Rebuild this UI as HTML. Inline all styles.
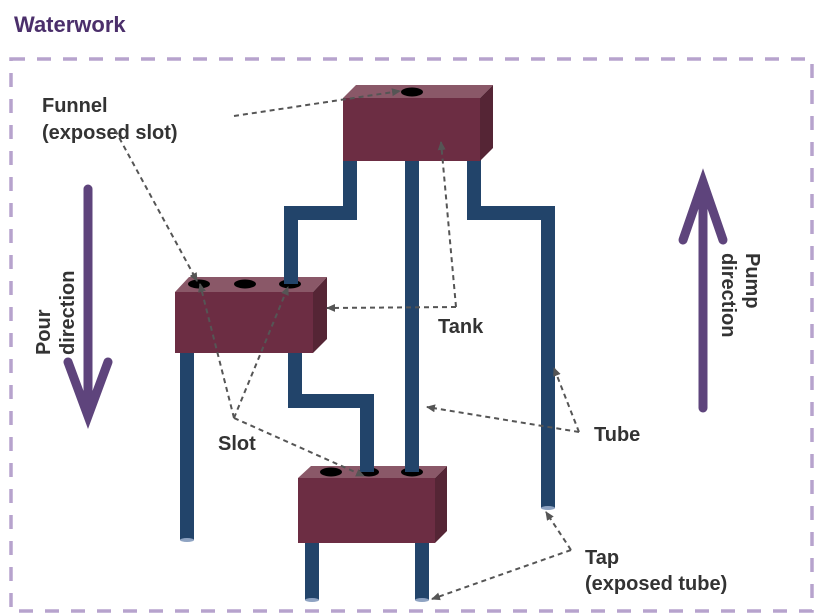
<!DOCTYPE html>
<html><head><meta charset="utf-8"><style>
html,body{margin:0;padding:0;background:#fff;width:816px;height:615px;overflow:hidden}
text{font-family:"Liberation Sans",sans-serif;font-weight:bold}
</style></head><body>
<svg width="816" height="615" viewBox="0 0 816 615" xmlns="http://www.w3.org/2000/svg">
<defs>
<marker id="ah" markerWidth="10" markerHeight="10" refX="8" refY="5" orient="auto" markerUnits="userSpaceOnUse"><path d="M0,1 L9,5 L0,9 z" fill="#555"/></marker>
</defs>
<text x="14" y="32" font-size="22" fill="#4b2f6b">Waterwork</text>
<rect x="11" y="59" width="801" height="552" fill="none" stroke="#b7a3cd" stroke-width="3.5" stroke-dasharray="14,12"/>

<!-- tubes -->
<g fill="none" stroke="#22446a" stroke-width="14" stroke-linejoin="miter">
<path d="M350,160 V213 H291 V290"/>
<path d="M412,160 V472"/>
<path d="M474,160 V213 H548 V508"/>
<path d="M187,350 V540"/>
<path d="M295,350 V401 H367 V474"/>
<path d="M312,540 V600"/>
<path d="M422,540 V600"/>
</g>
<g fill="#8ea3c2"><ellipse cx="187" cy="540" rx="7" ry="2"/><ellipse cx="548" cy="508" rx="7" ry="2"/><ellipse cx="312" cy="600" rx="7" ry="2"/><ellipse cx="422" cy="600" rx="7" ry="2"/></g>

<!-- top box -->
<polygon points="343,98 356,85 493,85 480,98" fill="#8a5868"/>
<polygon points="480,98 493,85 493,148 480,161" fill="#552535"/>
<rect x="343" y="98" width="137" height="63" fill="#6c2d43"/>
<ellipse cx="412" cy="92" rx="11" ry="4.5" fill="#000"/>

<!-- middle box -->
<polygon points="175,292 189,277 327,277 313,292" fill="#8a5868"/>
<polygon points="313,292 327,277 327,339 313,353" fill="#552535"/>
<rect x="175" y="292" width="138" height="61" fill="#6c2d43"/>
<ellipse cx="199" cy="284" rx="11" ry="4.5" fill="#000"/>
<ellipse cx="245" cy="284" rx="11" ry="4.5" fill="#000"/>
<ellipse cx="290" cy="284" rx="11" ry="4.5" fill="#000"/>
<rect x="284" y="262" width="14" height="22" fill="#22446a"/>

<!-- bottom box -->
<polygon points="298,478 311,466 447,466 435,478" fill="#8a5868"/>
<polygon points="435,478 447,466 447,531 435,543" fill="#552535"/>
<rect x="298" y="478" width="137" height="65" fill="#6c2d43"/>
<ellipse cx="331" cy="472" rx="11" ry="4.5" fill="#000"/>
<ellipse cx="369" cy="472" rx="10" ry="4.5" fill="#000"/>
<ellipse cx="412" cy="472" rx="11" ry="4.5" fill="#000"/>
<rect x="360" y="440" width="14" height="32" fill="#22446a"/>
<rect x="405" y="440" width="14" height="32" fill="#22446a"/>

<!-- big arrows -->
<g stroke="#5e447c" stroke-width="9" stroke-linecap="round" fill="none">
<path d="M88,189 V410"/><path d="M68,362 L88,416 L108,362"/>
<path d="M703,408 V186"/><path d="M683,240 L703,182 L723,240"/>
</g>
<text transform="translate(50,355) rotate(-90)" font-size="20" fill="#333">Pour</text>
<text transform="translate(74,355) rotate(-90)" font-size="20" fill="#333">direction</text>
<text transform="translate(746,253) rotate(90)" font-size="20" fill="#333">Pump</text>
<text transform="translate(722,253) rotate(90)" font-size="20" fill="#333">direction</text>

<!-- labels -->
<g font-size="20" fill="#333">
<text x="42" y="112">Funnel</text>
<text x="42" y="139">(exposed slot)</text>
<text x="438" y="333">Tank</text>
<text x="218" y="450">Slot</text>
<text x="594" y="441">Tube</text>
<text x="585" y="564">Tap</text>
<text x="585" y="590">(exposed tube)</text>
</g>

<!-- leaders -->
<g stroke="#555" stroke-width="2" stroke-dasharray="5,4" fill="none" marker-end="url(#ah)">
<path d="M234,116 L400,91"/>
<path d="M115,130 L197,281"/>
<path d="M456,307 L441,142"/>
<path d="M456,307 L327,308"/>
<path d="M234,418 L200,284"/>
<path d="M234,418 L288,287"/>
<path d="M234,418 L364,476"/>
<path d="M579,432 L427,407"/>
<path d="M579,432 L554,368"/>
<path d="M571,550 L432,599"/>
<path d="M571,550 L546,512"/>
</g>
</svg>
</body></html>
